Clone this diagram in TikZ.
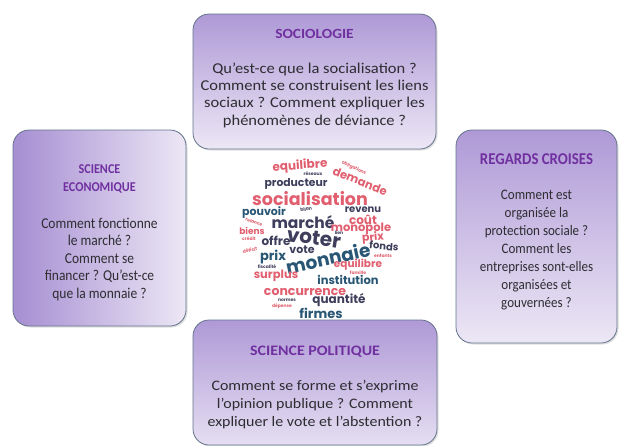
\documentclass[tikz,border=0pt]{standalone}
\usepackage{fontspec}
\setmainfont{Carlito}
\newfontfamily\boxwide{Carlito}[FakeStretch=1.1]
\newfontfamily\boxnarrow{Carlito}[FakeStretch=0.9]
\newfontfamily\cloud{Poppins}
\usepackage{xcolor}
\definecolor{BoxEdge}{RGB}{100, 115, 140}
\definecolor{TitlePurple}{RGB}{112, 48, 160}
\definecolor{BodyGray}{RGB}{45, 45, 50}
\definecolor{LilacDeep}{RGB}{166, 142, 210}
\definecolor{LilacPale}{RGB}{236, 231, 245}
\definecolor{CloudPink}{RGB}{224, 94, 110}
\definecolor{CloudDark}{RGB}{62, 62, 92}
\definecolor{CloudTeal}{RGB}{40, 86, 116}
\usepackage{tikz}
\usetikzlibrary{positioning, shadows}

\begin{document}
\begin{tikzpicture}[
        x=1pt, y=-1pt,
        box/.style={rectangle, draw=BoxEdge, thick, rounded corners=16pt, inner sep=0pt,
            drop shadow={opacity=0.25, shadow xshift=1.5pt, shadow yshift=-1.5pt}},
        title/.style={inner sep=0pt, align=center, text=TitlePurple, font=#1},
        body/.style={inner sep=0pt, align=center, text=BodyGray, font=#1},
        wd/.style={inner sep=0pt, font=\cloud\bfseries\fontsize{#1}{#1}\selectfont}
    ]
        \useasboundingbox (0,0) rectangle (620,445);

        % Boxes
        \node[box, minimum width=243pt, minimum height=135pt, top color=LilacDeep!90, bottom color=LilacPale] (soc) at (314.5,81.5) {};
        \node[box, minimum width=173pt, minimum height=196pt, left color=LilacDeep, right color=LilacPale] (eco) at (99.5,228) {};
        \node[box, minimum width=161pt, minimum height=213pt, shading=axis, shading angle=-30, top color=LilacDeep!90, bottom color=LilacPale] (reg) at (536.5,236.5) {};
        \node[box, minimum width=244pt, minimum height=125pt, top color=LilacDeep!90, bottom color=LilacPale!90!LilacDeep] (pol) at (315,382.5) {};

        % Titles and questions
        \node[title=\boxwide\bfseries\fontsize{14}{18}\selectfont, below=16pt of soc.north] (socT) {SOCIOLOGIE};
        \node[body=\boxwide\fontsize{15}{17.4}\selectfont, below=23pt of socT] (socB) {Qu’est-ce que la socialisation ?\\Comment se construisent les liens\\sociaux ? Comment expliquer les\\phénomènes de déviance ?};

        \node[title=\boxnarrow\bfseries\fontsize{13.5}{18}\selectfont, below=35pt of eco.north] (ecoT) {SCIENCE\\ECONOMIQUE};
        \node[body=\boxnarrow\fontsize{15}{17.6}\selectfont, below=24pt of ecoT] (ecoB) {Comment fonctionne\\le marché ?\\Comment se\\financer ? Qu’est-ce\\que la monnaie ?};

        \node[title=\boxnarrow\bfseries\fontsize{16.5}{18}\selectfont, below=24pt of reg.north] (regT) {REGARDS CROISES};
        \node[body=\boxnarrow\fontsize{14.5}{18}\selectfont, below=25pt of regT] (regB) {Comment est\\organisée la\\protection sociale ?\\Comment les\\entreprises sont-elles\\organisées et\\gouvernées ?};

        \node[title=\boxwide\bfseries\fontsize{14.5}{18}\selectfont, below=26pt of pol.north] (polT) {SCIENCE POLITIQUE};
        \node[body=\boxwide\fontsize{14.5}{18}\selectfont, below=23pt of polT] (polB) {Comment se forme et s’exprime\\l’opinion publique ? Comment\\expliquer le vote et l’abstention ?};

        % Word cloud
        \node[wd=12, CloudPink, rotate=4] (w1) at (300,166) {equilibre};
        \node[wd=4.5, CloudDark] (w2) at (313,174) {réseaux};
        \node[wd=4.5, CloudPink, rotate=-25] (w3) at (354,168) {obligations};
        \node[wd=11.5, CloudPink, rotate=-22] (w4) at (360,181) {demande};
        \node[wd=10.8, CloudDark] (w5) at (296,184) {producteur};
        \node[wd=17.5, CloudPink] (w6) at (310,199) {socialisation};
        \node[wd=11, CloudTeal] (w7) at (264,213) {pouvoir};
        \node[wd=4.5, CloudDark, rotate=10] (w8) at (306,209) {bilan};
        \node[wd=10, CloudDark] (w9) at (363,210) {revenu};
        \node[wd=15.5, CloudDark] (w10) at (303,222) {marché};
        \node[wd=12, CloudPink] (w11) at (363,220) {coût};
        \node[wd=11.5, CloudPink] (w12) at (361,229) {monopole};
        \node[wd=4.5, CloudPink, rotate=-20] (w13) at (254,222) {relance};
        \node[wd=9, CloudPink] (w14) at (252,231) {biens};
        \node[wd=20, CloudDark, rotate=-8] (w15) at (314,238) {voter};
        \node[wd=4.5, CloudPink] (w16) at (249,239) {crédit};
        \node[wd=12, CloudDark] (w17) at (276,241) {offre};
        \node[wd=4.5, CloudDark] (w18) at (339,233) {lien};
        \node[wd=11, CloudPink, rotate=5] (w19) at (373,238) {prix};
        \node[wd=10, CloudDark, rotate=-5] (w20) at (384,246) {fonds};
        \node[wd=4.5, CloudPink, rotate=10] (w21) at (250,250) {déficit};
        \node[wd=13, CloudTeal] (w22) at (273,257) {prix};
        \node[wd=11, CloudDark] (w23) at (302,250) {vote};
        \node[wd=18.5, CloudTeal, rotate=12] (w24) at (328,258) {monnaie};
        \node[wd=4.5, CloudPink] (w25) at (383,256) {enfants};
        \node[wd=10.5, CloudPink] (w26) at (358,265) {equilibre};
        \node[wd=4.5, CloudDark] (w27) at (267,267) {fiscalité};
        \node[wd=4.5, CloudPink] (w28) at (358,273) {famille};
        \node[wd=11.5, CloudPink] (w29) at (276,276) {surplus};
        \node[wd=11.5, CloudTeal] (w30) at (348,280) {institution};
        \node[wd=12.5, CloudPink] (w31) at (305,292) {concurrence};
        \node[wd=4.5, CloudDark] (w32) at (287,300) {normes};
        \node[wd=12, CloudDark] (w33) at (339,300) {quantité};
        \node[wd=4.5, CloudPink] (w34) at (282,306) {dépense};
        \node[wd=13, CloudTeal] (w35) at (321,313) {firmes};
    \end{tikzpicture}
\end{document}
